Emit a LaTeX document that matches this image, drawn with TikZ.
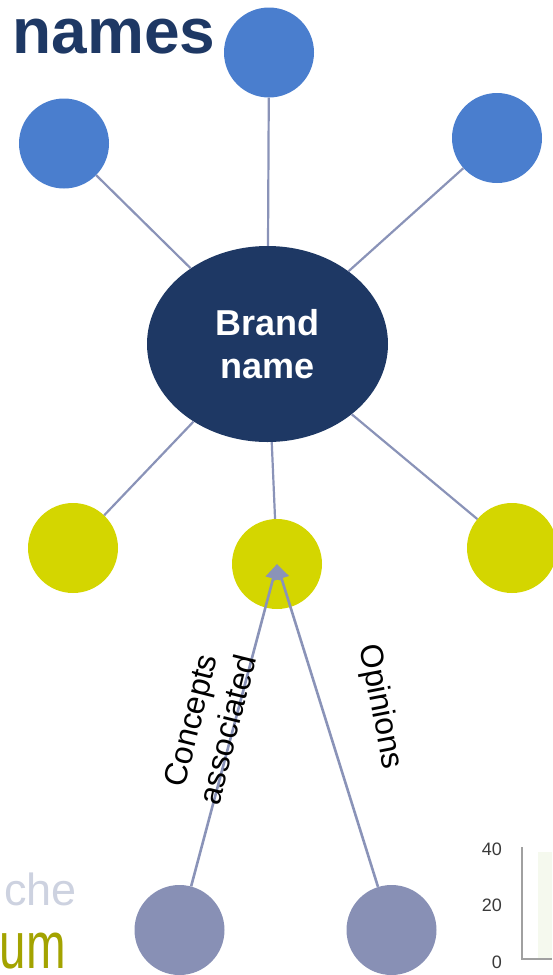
\documentclass[tikz,border=0pt]{standalone}
\usepackage{fontspec}
\setmainfont{Liberation Sans}
\usetikzlibrary{shapes.geometric,arrows.meta}

\definecolor{navy}{HTML}{1E3864}
\definecolor{skyblue}{HTML}{4A7ECE}
\definecolor{lime}{HTML}{D4D600}
\definecolor{slate}{HTML}{8890B5}
\definecolor{linkgrey}{HTML}{8A93B8}
\definecolor{palegrey}{HTML}{CDD2E0}
\definecolor{olivetext}{HTML}{A3A300}
\definecolor{axisgrey}{HTML}{A0A0A0}
\definecolor{ticktext}{HTML}{3A3A3A}
\definecolor{palegreen}{HTML}{F5F9EE}

\tikzset{
  bubble/.style={circle, minimum size=90pt, inner sep=0pt, draw=none},
  topbubble/.style={bubble, fill=skyblue},
  midbubble/.style={bubble, fill=lime},
  lowbubble/.style={bubble, fill=slate},
  link/.style={draw=linkgrey, line width=2.2pt},
  flow/.style={draw=linkgrey, line width=2.6pt,
    -{Triangle[length=15pt,width=15pt]}},
  flowlabel/.style={font=\fontsize{32}{38}\selectfont, align=center, inner sep=0pt},
  ticklabel/.style={font=\fontsize{18}{18}\selectfont, text=ticktext,
    anchor=base east, inner sep=0pt},
}

\begin{document}
\begin{tikzpicture}[x=1pt, y=-1pt]
  \useasboundingbox (0,0) rectangle (552,975);

  % heading fragments
  \node[anchor=base west, inner sep=0pt, text=navy,
        font=\bfseries\fontsize{64}{64}\selectfont] (title) at (12.5,53.5) {names};
  \node[anchor=base east, inner sep=0pt, text=palegrey,
        font=\fontsize{45}{45}\selectfont] (che) at (77,905) {che};
  \node[anchor=base east, inner sep=0pt, text=olivetext,
        font=\fontsize{66}{66}\selectfont] (um) at (66,968) {\scalebox{0.72}[1]{um}};

  % small chart axis
  \fill[palegreen] (538,852) rectangle (552,958);
  \coordinate (axtop) at (522,847);
  \coordinate (axorigin) at (522,959);
  \coordinate (axright) at (552,959);
  \draw[axisgrey, line width=1.4pt] (axtop) -- (axorigin) -- (axright);
  \node[ticklabel] (t40) at (502,855) {40};
  \node[ticklabel] (t20) at (502,911.5) {20};
  \node[ticklabel] (t0)  at (502,968) {0};

  % central node
  \node[ellipse, fill=navy, minimum width=241pt, minimum height=196pt,
        inner sep=0pt, text=white, align=center,
        font=\bfseries\fontsize{36}{43}\selectfont] (brand) at (267.5,344) {Brand\\name};

  % satellites
  \node[topbubble] (tl) at (64,143.5) {};
  \node[topbubble] (tc) at (269,52.5) {};
  \node[topbubble] (tr) at (497,138) {};
  \node[midbubble] (ml) at (73,548) {};
  \node[midbubble] (mc) at (277,564) {};
  \node[midbubble] (mr) at (512,548) {};
  \node[lowbubble] (bl) at (179.5,930) {};
  \node[lowbubble] (br) at (391.5,930) {};

  % spokes
  \draw[link] (brand) -- (tl);
  \draw[link] (brand) -- (tc);
  \draw[link] (brand) -- (tr);
  \draw[link] (brand) -- (ml);
  \draw[link] (brand) -- (mc);
  \draw[link] (brand) -- (mr);

  % inbound arrows
  \draw[flow] (bl) -- (mc.center);
  \draw[flow] (br) -- (mc.center);

  \node[flowlabel, rotate=76] (concepts) at (209,725) {Concepts\\associated};
  \node[flowlabel, rotate=-79] (opinions) at (380,707) {Opinions};
\end{tikzpicture}
\end{document}
